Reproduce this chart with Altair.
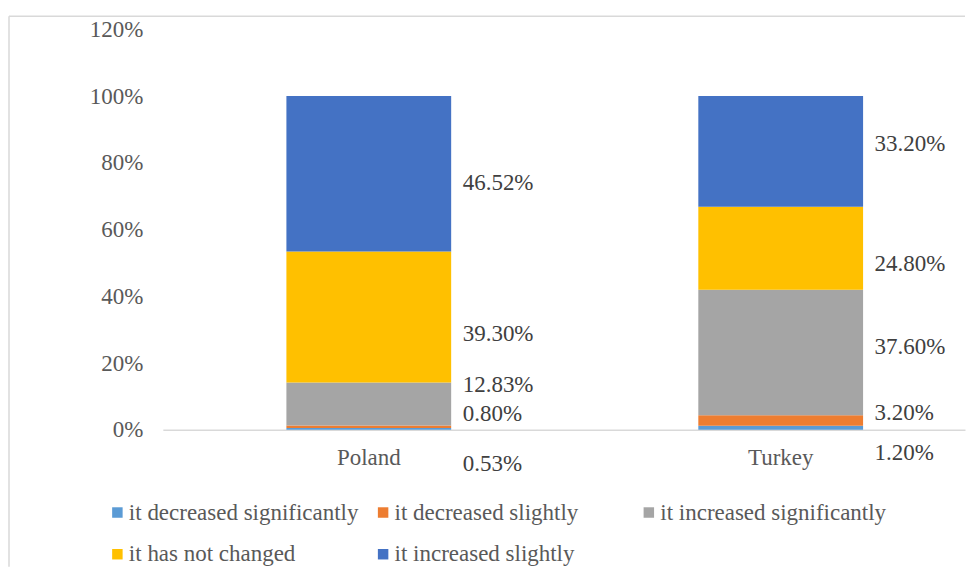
import altair as alt
import pandas as pd

countries = ["Poland", "Turkey"]
categories = [
    "it decreased significantly",
    "it decreased slightly",
    "it increased significantly",
    "it has not changed",
    "it increased slightly",
]
poland = [0.53, 0.80, 12.83, 39.30, 46.52]
turkey = [1.20, 3.20, 37.60, 24.80, 33.20]
colors = ["#5B9BD5", "#ED7D31", "#A5A5A5", "#FFC000", "#4472C4"]
# label nudges (percentage points away from each segment's middle), as placed in the original
poland_nudge = [-10.4, 3.9, 5.6, -5.0, -2.7]
turkey_nudge = [-7.6, 2.1, 1.5, -4.6, 2.25]
y_ticks = [0, 20, 40, 60, 80, 100, 120]

rows = []
for country, vals, nudges in [("Poland", poland, poland_nudge), ("Turkey", turkey, turkey_nudge)]:
    base = 0.0
    for i, (cat, v, n) in enumerate(zip(categories, vals, nudges)):
        rows.append({
            "country": country,
            "category": cat,
            "idx": i,
            "value": v,
            "label_y": base + v / 2 + n,
            "label": f"{v:.2f}%",
        })
        base += v
df = pd.DataFrame(rows)

FONT = "Liberation Serif, Times New Roman, serif"
W, H = 803, 401

xscale = alt.Scale(domain=countries, paddingInner=0.6, paddingOuter=0.2737, align=0.548)
yscale = alt.Scale(domain=[0, 120], nice=False, zero=True)

base = alt.Chart(df)

bars = base.mark_bar().encode(
    x=alt.X("country:N", scale=xscale, sort=countries,
            axis=alt.Axis(title=None, labelAngle=0, ticks=False, tickSize=0,
                          labelPadding=17, domainColor="#D9D9D9", domainWidth=1.5)),
    y=alt.Y("value:Q", stack="zero", scale=yscale,
            axis=alt.Axis(title=None, values=y_ticks, labelExpr="datum.value + '%'",
                          grid=False, domain=False, ticks=False, tickSize=0, labelPadding=20)),
    color=alt.Color("category:N", scale=alt.Scale(domain=categories, range=colors),
                    legend=alt.Legend(title=None, orient="none", legendX=-57, legendY=472,
                                      columns=3, direction="horizontal", symbolType="square",
                                      symbolSize=110, symbolStrokeWidth=0, labelFont=FONT,
                                      labelFontSize=23, labelColor="#595959", labelLimit=0,
                                      columnPadding=13, rowPadding=18, gridAlign="all",
                                      labelOffset=0)),
    order=alt.Order("idx:Q", sort="ascending"),
)

labels = base.mark_text(align="left", baseline="middle", dx=94, font=FONT,
                        fontSize=23, color="#404040").encode(
    x=alt.X("country:N", scale=xscale, sort=countries),
    y=alt.Y("label_y:Q", scale=yscale),
    text="label:N",
)

frame_data = alt.Data(values=[{"k": 1}])
frame_top = alt.Chart(frame_data).mark_rule(color="#D9D9D9", strokeWidth=1.5).encode(
    x=alt.value(-154), x2=alt.value(W), y=alt.value(-13)
)
frame_left = alt.Chart(frame_data).mark_rule(color="#D9D9D9", strokeWidth=1.5).encode(
    x=alt.value(-154), y=alt.value(-13), y2=alt.value(538)
)

chart = alt.layer(frame_top, frame_left, bars, labels).properties(
    width=W, height=H, padding={"top": 7, "left": 0, "right": 0, "bottom": 0}
).configure_view(strokeWidth=0).configure_axis(
    labelFont=FONT, labelFontSize=23, labelColor="#595959"
)

chart.save("out.html", embed_options={"renderer": "svg", "actions": False})
